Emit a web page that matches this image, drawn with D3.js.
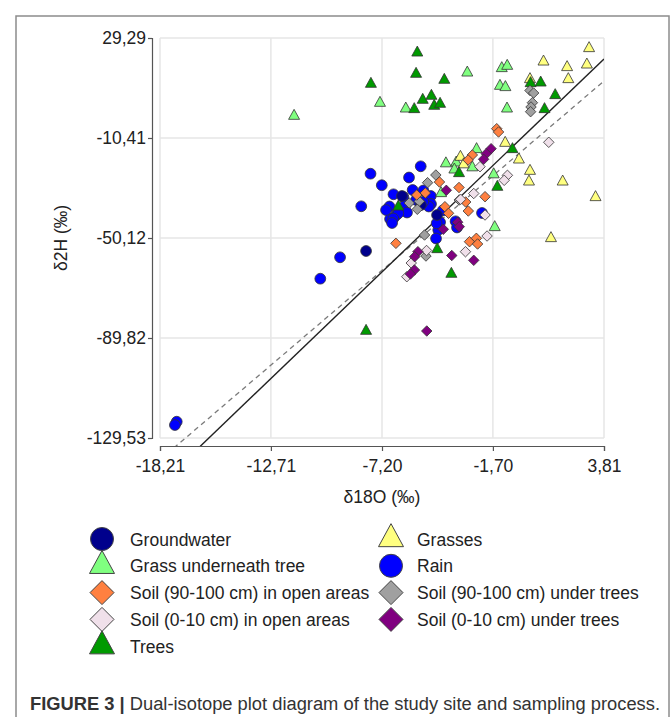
<!DOCTYPE html>
<html lang="en">
<head>
<meta charset="UTF-8">
<title>Dual-isotope plot</title>
<script src="https://cdn.jsdelivr.net/npm/d3@7"></script>
<style>
    body { margin: 0; background: #fff; }
    text { font-family: "Liberation Sans", Arial, sans-serif; }
</style>
</head>
<body>
<div id="chart"></div>
<script>
// values, [d18O, d2H]
var groundwater = [[-7.99, -55.28], [-6.21, -33.44], [-5.27, -37.02], [-4.47, -40.99]];
var rain = [[-17.38, -123.06], [-17.47, -124.37], [-10.26, -66.28], [-9.28, -57.78], [-8.23, -37.53],
    [-7.77, -24.59], [-7.21, -29.16], [-5.28, -21.65], [-5.86, -26.10], [-6.63, -32.77], [-5.68, -31.06],
    [-5.15, -31.26], [-4.78, -33.44], [-4.77, -36.62], [-6.14, -33.84], [-6.06, -37.22], [-6.83, -37.61],
    [-6.51, -41.19], [-6.80, -42.58], [-5.96, -40.00], [-4.88, -37.61], [-4.32, -43.85], [-4.19, -39.20],
    [-4.41, -46.94], [-4.52, -50.32], [-2.24, -40.19], [-3.55, -43.49], [-3.48, -45.95], [-6.39, -40.31],
    [-6.64, -42.38], [-4.49, -44.28], [-5.15, -35.71], [-7.00, -39.00], [-6.70, -44.16], [-5.51, -35.03]];
var grassUnderTree = [[-11.56, -1.68], [-7.30, 3.48], [-2.97, 15.51], [-1.26, 17.26], [-0.99, 18.17],
    [-1.35, 10.23], [-1.08, 9.72], [-6.02, 1.22], [-1.00, 1.22], [-2.51, -14.90], [-4.03, -20.54],
    [-3.52, -20.22], [-3.61, -23.00], [-2.72, -22.13], [-1.66, -24.91], [-1.61, -45.87], [-4.27, -32.37]];
var grasses = [[3.07, 25.20], [0.81, 19.88], [1.98, 17.66], [2.96, 18.69], [2.04, 12.89], [0.14, 12.89],
    [-1.09, -12.40], [-0.41, -19.03], [0.14, -23.52], [0.09, -27.77], [1.76, -27.77], [3.39, -33.96],
    [-3.31, -17.96], [-3.15, -20.94], [1.18, -50.24]];
var trees = [[-5.45, 23.45], [-5.51, 15.00], [-4.11, 12.61], [-7.75, 11.03], [-5.18, 4.67], [-4.75, 6.26],
    [-4.61, 2.29], [-4.32, 3.09], [-5.60, 0.98], [0.17, 11.30], [0.67, 11.54], [1.39, 6.54], [0.86, 0.98],
    [-0.73, -14.90], [-3.38, -24.43], [-1.48, -29.87], [-6.39, -37.69], [-4.46, -54.61], [-3.76, -64.41],
    [-7.99, -87.05]];
var soilDeepTrees = [[0.14, 8.44], [0.32, 7.45], [0.26, 3.60], [0.19, 1.89], [0.17, 0.03], [-4.53, -25.11],
    [-4.94, -28.16], [-5.85, -36.22], [-5.35, -35.55], [-5.45, -38.72], [-5.09, -48.93], [-5.02, -57.27],
    [-3.37, -35.03]];
var soilDeepOpen = [[-1.51, -6.72], [-1.42, -8.03], [-2.72, -17.16], [-2.93, -19.15], [-4.35, -27.89],
    [-5.05, -32.25], [-5.48, -33.05], [-3.38, -30.07], [-2.09, -33.72], [-2.92, -39.40], [-4.08, -37.69],
    [-3.90, -40.31], [-3.05, -35.83], [-6.51, -52.23], [-2.86, -51.59], [-2.52, -50.24], [-2.46, -52.50]];
var soilTopOpen = [[1.07, -12.12], [-0.98, -25.23], [-1.14, -27.21], [-2.34, -21.81], [-2.65, -32.45],
    [-3.30, -34.75], [-2.09, -40.99], [-1.99, -49.33], [-3.06, -55.56], [-4.99, -55.08], [-5.75, -60.05],
    [-5.97, -65.49]];
var soilTopTrees = [[-1.79, -14.66], [-2.03, -16.65], [-2.16, -18.87], [-4.01, -31.18], [-3.45, -43.85],
    [-3.37, -45.63], [-4.16, -46.67], [-3.74, -57.07], [-2.65, -58.98], [-5.42, -55.56], [-5.58, -57.54],
    [-5.59, -62.83], [-5.79, -64.41], [-4.98, -87.05]];

var xTicks = [-18.21, -12.71, -7.20, -1.70, 3.81];
var yTicks = [29.29, -10.41, -50.12, -89.82, -129.53];

// regression lines: solid and dashed
var solidLine = {slope: 7.68, intercept: -8.3};
var dashedLine = {slope: 6.83, intercept: -13.8};

var width = 670;
var height = 717;

var svg = d3.select("#chart")
    .append("svg")
    .attr("width", width)
    .attr("height", height);

// outer frame
svg.append("rect")
    .attr("x", 16).attr("y", 16)
    .attr("width", 653).attr("height", 760)
    .attr("fill", "none")
    .attr("stroke", "#8c8c8c")
    .attr("stroke-width", 1.5);

var plot = {left: 160, right: 604, top: 38, bottom: 438};

var xScale = d3.scaleLinear()
    .domain([-18.21, 3.81])
    .range([plot.left, plot.right]);

var yScale = d3.scaleLinear()
    .domain([-129.53, 29.29])
    .range([plot.bottom, plot.top]);

function fmt(v) {
    return v.toFixed(2).replace(".", ",");
}

// grid
svg.append("g").selectAll("line")
    .data(xTicks)
    .enter()
    .append("line")
    .attr("x1", function (d) { return xScale(d); })
    .attr("x2", function (d) { return xScale(d); })
    .attr("y1", plot.top).attr("y2", plot.bottom)
    .attr("stroke", "#e6e6e6").attr("stroke-width", 1.5);

svg.append("g").selectAll("line")
    .data(yTicks)
    .enter()
    .append("line")
    .attr("y1", function (d) { return yScale(d); })
    .attr("y2", function (d) { return yScale(d); })
    .attr("x1", plot.left).attr("x2", plot.right)
    .attr("stroke", "#e6e6e6").attr("stroke-width", 1.5);

// axes
var xAxis = d3.axisBottom(xScale)
    .tickValues(xTicks)
    .tickFormat(fmt)
    .tickSize(5)
    .tickSizeOuter(5);

var yAxis = d3.axisLeft(yScale)
    .tickValues(yTicks)
    .tickFormat(fmt)
    .tickSize(4)
    .tickSizeOuter(4);

var gx = svg.append("g")
    .attr("transform", "translate(0," + 446 + ")")
    .call(xAxis);

var gy = svg.append("g")
    .attr("transform", "translate(" + 152 + ",0)")
    .call(yAxis);

[gx, gy].forEach(function (g) {
    g.selectAll("path, line").attr("stroke", "#555").attr("stroke-width", 1.2);
    g.selectAll("text")
        .attr("fill", "#222")
        .style("font-size", "17.5px")
        .style("font-family", "'Liberation Sans', Arial, sans-serif");
});
gx.selectAll("text").attr("dy", "1.0em");
gy.selectAll("text").attr("x", -6);

// axis titles
svg.append("text")
    .attr("x", 382).attr("y", 503)
    .attr("text-anchor", "middle")
    .attr("fill", "#222")
    .style("font-size", "17.5px")
    .text("δ18O (‰)");

svg.append("text")
    .attr("transform", "translate(67,238) rotate(-90)")
    .attr("text-anchor", "middle")
    .attr("fill", "#222")
    .style("font-size", "17.5px")
    .text("δ2H (‰)");

// lines
svg.append("clipPath").attr("id", "clip")
    .append("rect")
    .attr("x", plot.left).attr("y", plot.top)
    .attr("width", plot.right - plot.left)
    .attr("height", 446 - plot.top);

function drawLine(l, color, dash, w) {
    var xs = [-18.21, 3.81];
    svg.append("path")
        .attr("clip-path", "url(#clip)")
        .attr("d", d3.line()
            .x(function (d) { return xScale(d); })
            .y(function (d) { return yScale(l.slope * d + l.intercept); })(xs))
        .attr("fill", "none")
        .attr("stroke", color)
        .attr("stroke-width", w)
        .attr("stroke-dasharray", dash);
}
drawLine(dashedLine, "#7a7a7a", "5,4", 1.3);
drawLine(solidLine, "#222", null, 1.4);

// marker shapes
function triPath(w, h) {
    return "M0," + (-h * 2 / 3) + "L" + (w / 2) + "," + (h / 3) + "L" + (-w / 2) + "," + (h / 3) + "Z";
}
function diaPath(w, h) {
    return "M0," + (-h / 2) + "L" + (w / 2) + ",0L0," + (h / 2) + "L" + (-w / 2) + ",0Z";
}
function circPath(r) {
    return "M" + r + ",0A" + r + "," + r + " 0 1,1 " + (-r) + ",0A" + r + "," + r + " 0 1,1 " + r + ",0Z";
}
function shape(kind, big) {
    if (kind === "circle") return circPath(big ? 11.5 : 5.4);
    if (kind === "triangle") return big ? triPath(25, 23) : triPath(11, 10);
    return big ? diaPath(24, 24) : diaPath(10.5, 10.5);
}

var series = [
    {name: "Groundwater", data: groundwater, kind: "circle", fill: "#00008c"},
    {name: "Grasses", data: grasses, kind: "triangle", fill: "#ffff80"},
    {name: "Grass underneath tree", data: grassUnderTree, kind: "triangle", fill: "#80ff80"},
    {name: "Rain", data: rain, kind: "circle", fill: "#0000ff"},
    {name: "Soil (90-100 cm) in open areas", data: soilDeepOpen, kind: "diamond", fill: "#ff8040"},
    {name: "Soil (90-100 cm) under trees", data: soilDeepTrees, kind: "diamond", fill: "#a0a0a0"},
    {name: "Soil (0-10 cm) in open areas", data: soilTopOpen, kind: "diamond", fill: "#f0e0ea"},
    {name: "Soil (0-10 cm) under trees", data: soilTopTrees, kind: "diamond", fill: "#800080"},
    {name: "Trees", data: trees, kind: "triangle", fill: "#009a00"}
];

// drawing order in the plot
var drawOrder = ["Rain", "Groundwater", "Grass underneath tree", "Grasses", "Trees",
    "Soil (90-100 cm) under trees", "Soil (90-100 cm) in open areas",
    "Soil (0-10 cm) in open areas", "Soil (0-10 cm) under trees"];

drawOrder.forEach(function (n) {
    var s = series.filter(function (d) { return d.name === n; })[0];
    svg.append("g").selectAll("path")
        .data(s.data)
        .enter()
        .append("path")
        .attr("transform", function (d) {
            return "translate(" + xScale(d[0]) + "," + yScale(d[1]) + ")";
        })
        .attr("d", shape(s.kind, false))
        .attr("fill", s.fill)
        .attr("stroke", "#333")
        .attr("stroke-width", 0.8);
});

// legend, two columns
var legend = svg.append("g");
var items = legend.selectAll("g")
    .data(series)
    .enter()
    .append("g")
    .attr("transform", function (d, i) {
        var col = i % 2, row = Math.floor(i / 2);
        return "translate(" + (col === 0 ? 102 : 391) + "," + (539 + row * 26.8) + ")";
    });

items.append("path")
    .attr("d", function (d) { return shape(d.kind, true); })
    .attr("fill", function (d) { return d.fill; })
    .attr("stroke", "#444")
    .attr("stroke-width", 1);

items.append("text")
    .attr("x", function (d, i) { return i % 2 === 0 ? 28 : 26; })
    .attr("y", 6.5)
    .attr("fill", "#222")
    .style("font-size", "17.5px")
    .text(function (d) { return d.name; });

// caption
var cap = svg.append("text")
    .attr("x", 30).attr("y", 710)
    .attr("fill", "#333")
    .attr("textLength", 630)
    .attr("lengthAdjust", "spacingAndGlyphs")
    .style("font-size", "18px");
cap.append("tspan").attr("font-weight", "bold").text("FIGURE 3 | ");
cap.append("tspan").text("Dual-isotope plot diagram of the study site and sampling process.");
</script>
</body>
</html>
